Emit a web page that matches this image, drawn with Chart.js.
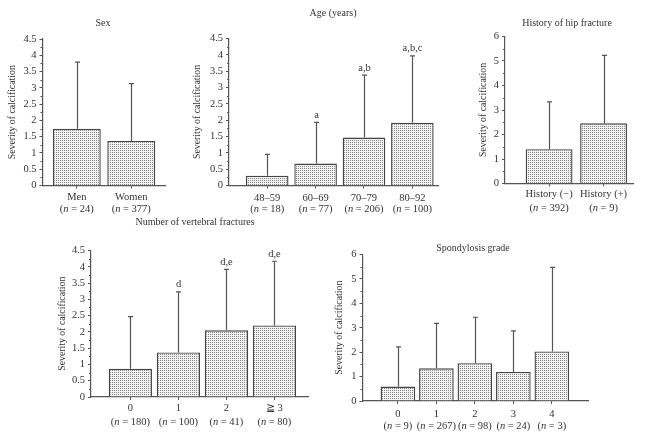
<!DOCTYPE html>
<html>
<head>
<meta charset="utf-8">
<script src="https://cdn.jsdelivr.net/npm/chart.js@4.4.1/dist/chart.umd.min.js"></script>
<style>
  html, body { margin: 0; padding: 0; background: #fff; }
  #wrap { position: relative; width: 647px; height: 438px; }
  #wrap canvas { position: absolute; left: 0; top: 0; }
</style>
</head>
<body>
<div id="wrap">
  <canvas id="sex" width="647" height="438"></canvas>
  <canvas id="age" width="647" height="438"></canvas>
  <canvas id="hip" width="647" height="438"></canvas>
  <canvas id="vf" width="647" height="438"></canvas>
  <canvas id="sp" width="647" height="438"></canvas>
</div>
<script>
// mean severity of calcification and SD (whisker top = mean + SD)
const sexLabels = ['Men', 'Women']
const sexN = [24, 377]
const sexMean = [1.74, 1.37]
const sexSD = [2.05, 1.76]

const ageLabels = ['48–59', '60–69', '70–79', '80–92']
const ageN = [18, 77, 206, 100]
const ageMean = [0.30, 0.67, 1.47, 1.92]
const ageSD = [0.65, 1.26, 1.91, 2.05]
const ageNotes = ['', 'a', 'a,b', 'a,b,c']

const hipLabels = ['History (−)', 'History (+)']
const hipN = [392, 9]
const hipMean = [1.40, 2.46]
const hipSD = [1.93, 2.77]

const vfLabels = ['0', '1', '2', '≧ 3']
const vfN = [180, 100, 41, 80]
const vfMean = [0.87, 1.37, 2.05, 2.20]
const vfSD = [1.60, 1.86, 1.87, 1.97]
const vfNotes = ['', 'd', 'd,e', 'd,e']

const spLabels = ['0', '1', '2', '3', '4']
const spN = [9, 267, 98, 24, 3]
const spMean = [0.59, 1.34, 1.55, 1.19, 2.03]
const spSD = [1.63, 1.84, 1.88, 1.68, 3.44]

const FONT = '"Liberation Serif", "Times New Roman", serif'
const INK = '#333'
const LINE = '#555'
const FS = 10.5

function dotPattern(ctx) {
    const c = document.createElement('canvas')
    c.width = 2
    c.height = 2
    const g = c.getContext('2d')
    g.fillStyle = '#f2f2f2'
    g.fillRect(0, 0, 2, 2)
    g.fillStyle = '#858585'
    g.fillRect(0, 0, 1, 1)
    return ctx.createPattern(c, 'repeat')
}

// "(n = 24)" with an italic n
function drawCount(ctx, n, cx, cy) {
    const a = '(', b = 'n', c = ' = ' + n + ')'
    ctx.font = `${FS}px ${FONT}`
    const wa = ctx.measureText(a).width
    const wc = ctx.measureText(c).width
    ctx.font = `italic ${FS}px ${FONT}`
    const wb = ctx.measureText(b).width
    let x = cx - (wa + wb + wc) / 2
    ctx.textAlign = 'left'
    ctx.font = `${FS}px ${FONT}`
    ctx.fillText(a, x, cy)
    x += wa
    ctx.font = `italic ${FS}px ${FONT}`
    ctx.fillText(b, x, cy)
    x += wb
    ctx.font = `${FS}px ${FONT}`
    ctx.fillText(c, x, cy)
}

const panelPlugin = {
    id: 'panel',
    afterDatasetsDraw(chart, args, opts) {
        const ctx = chart.ctx
        const y = chart.scales.y
        const x = chart.scales.x
        const area = chart.chartArea
        ctx.save()

        // minor ticks halfway between labelled ticks
        ctx.strokeStyle = LINE
        ctx.lineWidth = 1
        const tv = y.ticks.map(t => t.value)
        for (let i = 0; i < tv.length - 1; i++) {
            const py = Math.round(y.getPixelForValue((tv[i] + tv[i + 1]) / 2)) + 0.5
            ctx.beginPath()
            ctx.moveTo(area.left, py)
            ctx.lineTo(area.left - 2, py)
            ctx.stroke()
        }

        // upper SD whiskers + significance letters
        ctx.fillStyle = INK
        ctx.textBaseline = 'bottom'
        opts.mean.forEach((m, i) => {
            const bx = Math.round(x.getPixelForValue(i)) + 0.5
            const top = y.getPixelForValue(m + opts.sd[i])
            ctx.strokeStyle = LINE
            ctx.lineWidth = 1.2
            ctx.beginPath()
            ctx.moveTo(bx, y.getPixelForValue(m))
            ctx.lineTo(bx, top)
            ctx.moveTo(bx - 2.5, top)
            ctx.lineTo(bx + 2.5, top)
            ctx.stroke()
            if (opts.notes && opts.notes[i]) {
                ctx.font = `${FS}px ${FONT}`
                ctx.textAlign = 'center'
                ctx.fillText(opts.notes[i], bx, top - 2)
            }
        })

        // two-line category labels
        ctx.textBaseline = 'middle'
        opts.labels.forEach((lab, i) => {
            const cx = x.getPixelForValue(i)
            ctx.font = `${FS}px ${FONT}`
            ctx.textAlign = 'center'
            ctx.fillText(lab, cx, area.bottom + opts.dy1)
            drawCount(ctx, opts.n[i], cx, area.bottom + opts.dy2)
        })

        // panel heading
        ctx.font = `10px ${FONT}`
        ctx.textAlign = 'center'
        ctx.fillText(opts.title, opts.titleX, opts.titleY)
        ctx.restore()
    }
}

function panel(id, g, d) {
    const ctx = document.getElementById(id).getContext('2d')
    const scaleLeft = g.yTitleX - 5.7
    return new Chart(ctx, {
        type: 'bar',
        data: {
            datasets: [{
                data: d.mean.map((v, i) => ({ x: i, y: v })),
                backgroundColor: dotPattern(ctx),
                borderColor: '#444',
                borderWidth: 1.4,
                categoryPercentage: 1,
                barPercentage: g.barPct
            }]
        },
        options: {
            responsive: false,
            animation: false,
            events: [],
            layout: {
                padding: { left: scaleLeft, top: g.top, right: 647 - g.right, bottom: 438 - g.bottom }
            },
            plugins: {
                legend: { display: false },
                tooltip: { enabled: false },
                panel: {
                    labels: d.labels, n: d.n, mean: d.mean, sd: d.sd, notes: d.notes,
                    title: d.title, titleX: g.titleX, titleY: g.titleY, dy1: g.dy1, dy2: g.dy2
                }
            },
            scales: {
                x: {
                    type: 'linear',
                    offset: false,
                    min: g.xMin,
                    max: g.xMax,
                    afterBuildTicks: s => { s.ticks = d.mean.map((v, i) => ({ value: i })) },
                    afterFit: s => { s.height = 0 },
                    ticks: { display: false },
                    grid: { offset: false, drawOnChartArea: false, tickLength: 3, color: LINE },
                    border: { color: LINE, width: 1.2 }
                },
                y: {
                    min: 0,
                    max: d.yMax,
                    afterFit: s => { s.width = g.left - scaleLeft },
                    ticks: {
                        stepSize: d.yStep,
                        padding: 3,
                        color: INK,
                        font: { family: FONT, size: FS },
                        callback: v => String(v)
                    },
                    grid: { drawOnChartArea: false, tickLength: 3, color: LINE },
                    border: { color: LINE, width: 1.2 },
                    title: {
                        display: true,
                        text: 'Severity of calcification',
                        padding: 0,
                        color: INK,
                        font: { family: FONT, size: 9.8 }
                    }
                }
            }
        },
        plugins: [panelPlugin]
    })
}

panel('sex',
    { yTitleX: 12, left: 42.5, right: 165, top: 39, bottom: 185.5, xMin: -0.63, xMax: 1.62, barPct: 0.88,
      titleX: 103, titleY: 23, dy1: 12, dy2: 24 },
    { labels: sexLabels, n: sexN, mean: sexMean, sd: sexSD, title: 'Sex', yMax: 4.5, yStep: 0.5 })

panel('age',
    { yTitleX: 197, left: 229, right: 438, top: 38.5, bottom: 185.5, xMin: -0.79, xMax: 3.53, barPct: 0.88,
      titleX: 333, titleY: 13, dy1: 13, dy2: 24 },
    { labels: ageLabels, n: ageN, mean: ageMean, sd: ageSD, notes: ageNotes, title: 'Age (years)', yMax: 4.5, yStep: 0.5 })

panel('hip',
    { yTitleX: 483, left: 505, right: 633.5, top: 36.5, bottom: 183.5, xMin: -0.81, xMax: 1.55, barPct: 0.86,
      titleX: 567, titleY: 23, dy1: 11, dy2: 25 },
    { labels: hipLabels, n: hipN, mean: hipMean, sd: hipSD, title: 'History of hip fracture', yMax: 6, yStep: 1 })

panel('vf',
    { yTitleX: 62, left: 91, right: 308, top: 250.5, bottom: 397, xMin: -0.82, xMax: 3.70, barPct: 0.9,
      titleX: 195, titleY: 222, dy1: 11, dy2: 25 },
    { labels: vfLabels, n: vfN, mean: vfMean, sd: vfSD, notes: vfNotes, title: 'Number of vertebral fractures', yMax: 4.5, yStep: 0.5 })

panel('sp',
    { yTitleX: 339, left: 362.5, right: 588, top: 254.5, bottom: 401, xMin: -0.92, xMax: 4.94, barPct: 0.9,
      titleX: 473, titleY: 248, dy1: 13, dy2: 25 },
    { labels: spLabels, n: spN, mean: spMean, sd: spSD, title: 'Spondylosis grade', yMax: 6, yStep: 1 })
</script>
</body>
</html>
